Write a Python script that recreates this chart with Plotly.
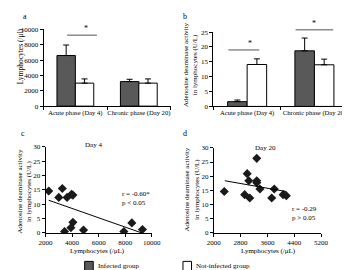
import plotly.graph_objects as go

W, H = 350, 270
FONT = "Liberation Serif"

# ---- data ----
phases = ["Acute phase (Day 4)", "Chronic phase (Day 20)"]
groups = ["Infected group", "Not-infected group"]
lymph_infected = [6600, 3200]
lymph_infected_err = [7970, 3500]
lymph_notinf = [3000, 3000]
lymph_notinf_err = [3550, 3550]

ada_infected = [1.6, 18.7]
ada_infected_err = [2.15, 23.0]
ada_notinf = [14.1, 14.0]
ada_notinf_err = [16.0, 15.9]

day4_lymph = [2240, 3000, 3265, 3620, 3960, 4060, 3430, 3910, 4060, 4860, 7900, 8500, 9300]
day4_ada = [14.6, 12.4, 15.5, 12.4, 13.5, 13.2, 0.5, 1.8, 3.7, 1.0, 0.5, 3.5, 1.2]
day4_trend_x = [2240, 9250]
day4_trend_y = [11.4, 0.0]

day20_lymph = [2313, 2921, 2997, 3045, 3073, 3282, 3282, 3282, 3377, 3728, 3804, 4070, 4165]
day20_ada = [14.6, 13.5, 20.9, 18.4, 12.3, 26.3, 18.4, 17.7, 15.5, 12.3, 15.5, 13.5, 13.1]
day20_trend_x = [2330, 4165]
day20_trend_y = [18.4, 14.6]

DARK = "#595959"
COLORS = [DARK, "white"]

def px_x(p):
    return p / W

def px_y(p):
    return 1 - p / H

fig = go.Figure()

def bars(vals, errs, color, name, xa, ya):
    fig.add_trace(go.Bar(
        x=phases, y=vals, name=name, showlegend=False,
        marker=dict(color=color, line=dict(color="black", width=1)),
        error_y=dict(type="data", symmetric=False,
                     array=[e - v for e, v in zip(errs, vals)],
                     arrayminus=[0] * len(vals),
                     color="black", thickness=1, width=3),
        xaxis=xa, yaxis=ya))

bars(lymph_infected, lymph_infected_err, COLORS[0], groups[0], "x", "y")
bars(lymph_notinf, lymph_notinf_err, COLORS[1], groups[1], "x", "y")
bars(ada_infected, ada_infected_err, COLORS[0], groups[0], "x2", "y2")
bars(ada_notinf, ada_notinf_err, COLORS[1], groups[1], "x2", "y2")

fig.add_trace(go.Scatter(x=day4_lymph, y=day4_ada, mode="markers",
                         marker=dict(symbol="diamond", size=7, color="#1a1a1a"),
                         showlegend=False, xaxis="x3", yaxis="y3"))
fig.add_trace(go.Scatter(x=day4_trend_x, y=day4_trend_y, mode="lines",
                         line=dict(color="black", width=1),
                         showlegend=False, xaxis="x3", yaxis="y3"))
fig.add_trace(go.Scatter(x=day20_lymph, y=day20_ada, mode="markers",
                         marker=dict(symbol="diamond", size=7, color="#1a1a1a"),
                         showlegend=False, xaxis="x4", yaxis="y4"))
fig.add_trace(go.Scatter(x=day20_trend_x, y=day20_trend_y, mode="lines",
                         line=dict(color="black", width=1),
                         showlegend=False, xaxis="x4", yaxis="y4"))

ax_common = dict(showline=True, linecolor="black", linewidth=1, ticks="outside",
                 ticklen=3, tickcolor="black", showgrid=False, zeroline=False,
                 tickangle=0, exponentformat="none", tickformat="d",
                 tickfont=dict(family=FONT, size=7, color="black"))
cat_font = dict(family=FONT, size=6.6, color="black")

fig.update_layout(
    width=W, height=H, margin=dict(l=0, r=0, t=0, b=0),
    paper_bgcolor="white", plot_bgcolor="white",
    barmode="group", bargap=0.42, bargroupgap=0,
    font=dict(family=FONT, size=7, color="black"),
    showlegend=False,
    xaxis=dict(domain=[px_x(30), px_x(163)], anchor="y", type="category",
               range=[-0.5, 1.5], tickson="boundaries",
               **{**ax_common, "tickfont": cat_font}),
    yaxis=dict(domain=[px_y(97), px_y(18)], anchor="x", range=[0, 10000],
               dtick=2000, **ax_common),
    xaxis2=dict(domain=[px_x(208), px_x(349)], anchor="y2", type="category",
                range=[-0.5, 1.5], tickson="boundaries",
                **{**ax_common, "tickfont": cat_font}),
    yaxis2=dict(domain=[px_y(97.3), px_y(20.7)], anchor="x2", range=[0, 25],
                dtick=5, **ax_common),
    xaxis3=dict(domain=[px_x(32), px_x(143.3)], anchor="y3", range=[2000, 10000],
                dtick=2000, tick0=2000, **ax_common),
    yaxis3=dict(domain=[px_y(227.7), px_y(139)], anchor="x3", range=[0, 30],
                dtick=5, **ax_common),
    xaxis4=dict(domain=[px_x(208.3), px_x(320.7)], anchor="y4", range=[2000, 5200],
                dtick=800, tick0=2000, **ax_common),
    yaxis4=dict(domain=[px_y(227.7), px_y(140)], anchor="x4", range=[0, 30],
                dtick=5, **ax_common),
)

# significance markers (category position -> domain fraction)
def cat_frac(pos):
    return (pos + 0.5) / 2.0

sig = [
    # xaxis, yaxis, x0, x1, yval, ymax, star_x
    ("x", "y", -0.13, 0.34, 9250, 10000, 0.11),
    ("x2", "y2", -0.28, 0.18, 19.0, 25, -0.02),
    ("x2", "y2", 0.72, 1.28, 25.8, 25, 1.06),
]
for xa, ya, x0, x1, yv, ymax, sx in sig:
    yf = yv / ymax
    fig.add_shape(type="line", xref=f"{xa} domain", yref=f"{ya} domain",
                  x0=cat_frac(x0), x1=cat_frac(x1), y0=yf, y1=yf,
                  line=dict(color="#8c8c8c", width=1.5))
    fig.add_annotation(text="*", xref=f"{xa} domain", yref=f"{ya} domain",
                       x=cat_frac(sx), y=yf, yanchor="bottom", showarrow=False,
                       font=dict(family=FONT, size=8, color="black"), yshift=0)

def txt(t, x, y, size=7, angle=0, xa="paper", ya="paper", xanchor="center", yanchor="middle", align="center"):
    fig.add_annotation(text=t, x=x, y=y, xref=xa, yref=ya, showarrow=False,
                       textangle=angle, xanchor=xanchor, yanchor=yanchor, align=align,
                       font=dict(family=FONT, size=size, color="black"))

# panel letters
txt("a", px_x(10), px_y(5), size=8)
txt("b", px_x(178), px_y(5), size=8)
txt("c", px_x(8), px_y(125), size=8)
txt("d", px_x(178), px_y(125), size=8)

# y-axis titles
txt("Lymphocytes (/μl)", px_x(6), px_y(46), size=7.5, angle=-90)
txt("Adenosine deaminase activity<br>in lymphocytes (U/L)", px_x(184), px_y(55), size=7, angle=-90)
txt("Adenosine deaminase activity<br>in lymphocytes (U/L)", px_x(9.5), px_y(185), size=7, angle=-90)
txt("Adenosine deaminase activity<br>in lymphocytes (U/L)", px_x(185), px_y(183.5), size=7, angle=-90)

# x-axis titles
txt("Lymphocytes (/μL)", px_x(86), px_y(246), size=7)
txt("Lymphocytes (/μL)", px_x(266), px_y(246), size=7)

# scatter titles
txt("Day 4", 0.45, 1.02, xa="x3 domain", ya="y3 domain")
txt("Day 20", 0.478, 1.0, xa="x4 domain", ya="y4 domain")

# stats
txt("r = -0.60*<br>p < 0.05", 7600, 12.0, xa="x3", ya="y3", xanchor="left", align="left")
txt("r = -0.29<br>p > 0.05", 4278, 6.8, xa="x4", ya="y4", xanchor="left", align="left")

# legend (drawn keys)
legend_x = [73, 176]
for gx, name, col in zip(legend_x, groups, COLORS):
    fig.add_shape(type="rect", xref="paper", yref="paper",
                  x0=px_x(gx), x1=px_x(gx + 9), y0=px_y(267), y1=px_y(257),
                  fillcolor=col, line=dict(color="black", width=1))
    txt(name, px_x(gx + 11.5), px_y(261.5), xanchor="left")

fig.write_html("out.html")
